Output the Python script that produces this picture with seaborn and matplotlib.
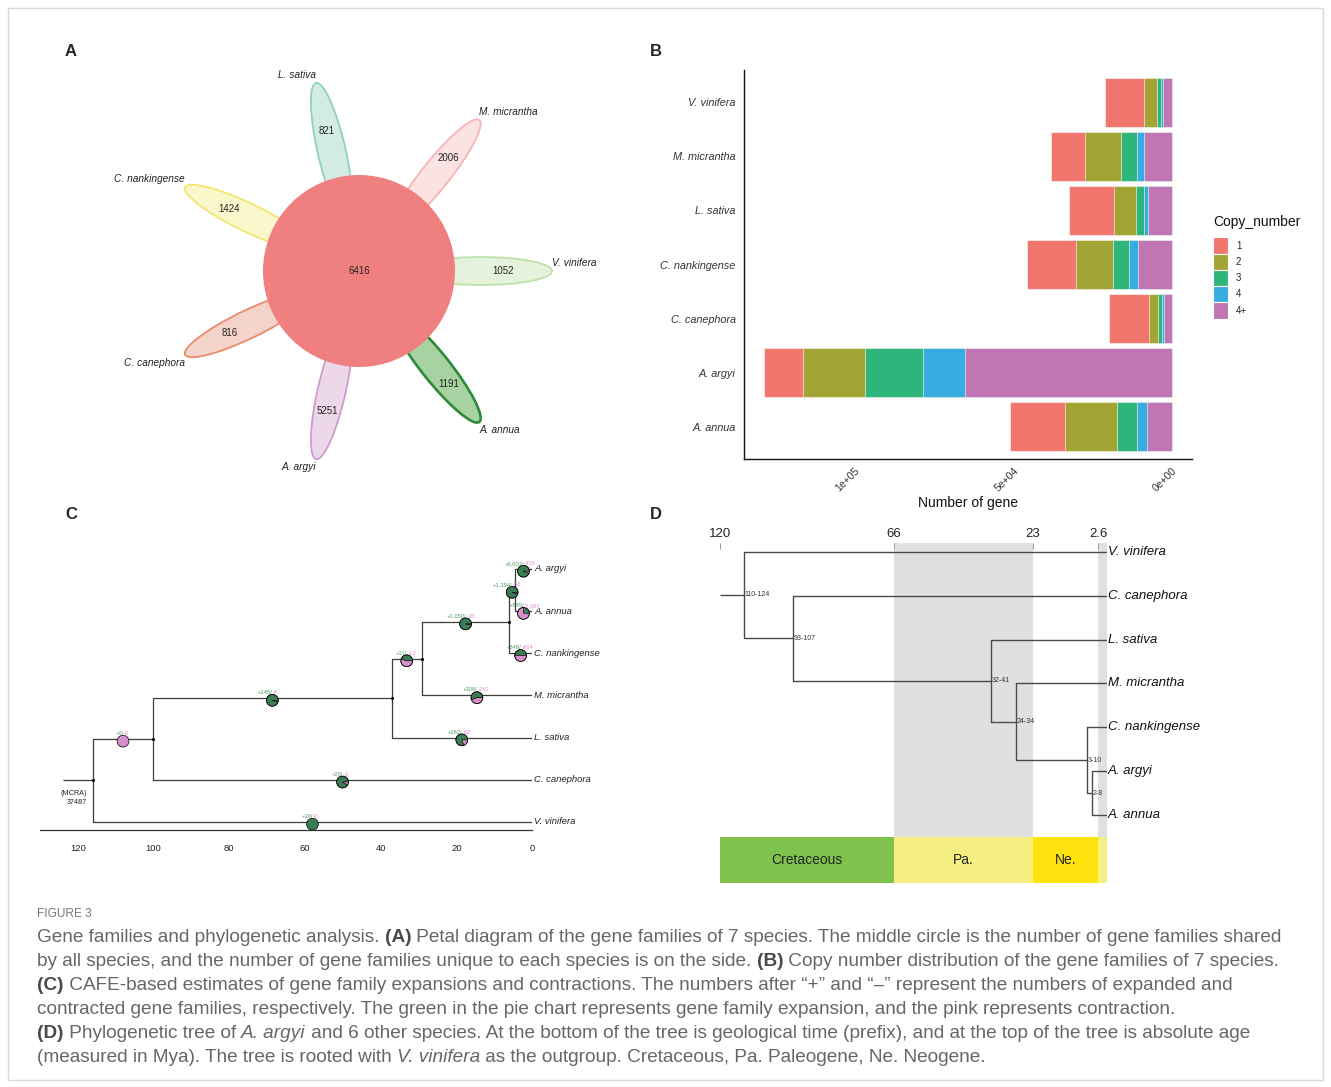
import numpy as np
import pandas as pd
import matplotlib
matplotlib.use('Agg')
import matplotlib.pyplot as plt
import seaborn as sns
from matplotlib.patches import Ellipse, Circle, Wedge, Rectangle, Patch
import matplotlib.transforms as mtransforms
from matplotlib.font_manager import FontProperties

# ================= DATA =================
# Panel A : petal diagram
petal_species = ['V. vinifera', 'M. micrantha', 'L. sativa', 'C. nankingense',
                 'C. canephora', 'A. argyi', 'A. annua']
petal_unique = [1052, 2006, 821, 1424, 816, 5251, 1191]
core_families = 6416
petal_fill = ['#E5F2DC', '#FCE3E3', '#D3ECE3', '#FBF7CD', '#F4D3CA', '#EDD8EA', '#A6D3A1']
petal_edge = ['#BDE2AA', '#F6B4B4', '#8FD1BA', '#F3E56C', '#EC8A6B', '#CD9BCD', '#2F8A3B']

# Panel B : copy number distribution
copy_species = ['V. vinifera', 'M. micrantha', 'L. sativa', 'C. nankingense',
                'C. canephora', 'A. argyi', 'A. annua']
copy_classes = ['1', '2', '3', '4', '4+']
copy_1 = [12300, 10500, 14300, 15600, 12700, 12200, 17500]
copy_2 = [4100, 11600, 7000, 11600, 2900, 19700, 16400]
copy_3 = [1500, 4900, 2500, 5100, 1200, 18400, 6300]
copy_4 = [550, 2300, 1200, 2700, 700, 13100, 3100]
copy_4plus = [2700, 8700, 7500, 10700, 2300, 65200, 7800]
copy_colors = ['#F1766D', '#A3A436', '#2EB57C', '#38ACE0', '#C076B2']
copy_ticks = [100000, 50000, 0]
copy_ticklabels = ['1e+05', '5e+04', '0e+00']

# Panel C : CAFE expansion / contraction tree
cafe_tips = ['V. vinifera', 'C. canephora', 'L. sativa', 'M. micrantha',
             'C. nankingense', 'A. annua', 'A. argyi']          # bottom -> top
cafe_nodes = ['R', 'N1', 'N2', 'N3', 'N4', 'N5']
cafe_node_ages = [116.0, 100.1, 37.1, 29.1, 6.0, 4.5]
cafe_children = [('V. vinifera', 'N1'), ('C. canephora', 'N2'), ('L. sativa', 'N3'),
                 ('M. micrantha', 'N4'), ('C. nankingense', 'N5'), ('A. annua', 'A. argyi')]
cafe_root_stem = 124.0
cafe_branches = ['V. vinifera', 'N1', 'C. canephora', 'N2', 'L. sativa', 'N3',
                 'M. micrantha', 'N4', 'C. nankingense', 'N5', 'A. annua', 'A. argyi']
cafe_expanded = [30, 0, 20, 145, 262, 11, 308, 1050, 848, 1394, 845, 6607]
cafe_contracted = [0, 6, 2, 6, 62, 13, 242, 35, 864, 58, 2567, 439]
cafe_mrca = 37487
cafe_ticks = [120, 100, 80, 60, 40, 20, 0]

# Panel D : dated tree
time_tips = ['A. annua', 'A. argyi', 'C. nankingense', 'M. micrantha',
             'L. sativa', 'C. canephora', 'V. vinifera']        # bottom -> top
time_nodes = ['R', 'N1', 'N2', 'N3', 'N4', 'N5']
time_node_ages = [112.7, 97.3, 35.9, 28.3, 6.1, 4.5]
time_node_ci = ['110-124', '93-107', '32-41', '24-34', '3-10', '2-8']
time_children = [('V. vinifera', 'N1'), ('C. canephora', 'N2'), ('L. sativa', 'N3'),
                 ('M. micrantha', 'N4'), ('C. nankingense', 'N5'), ('A. argyi', 'A. annua')]
time_root_stem = 120.0
time_ticks = [120, 66, 23, 2.6]
time_ticklabels = ['120', '66', '23', '2.6']
geo_names = ['Cretaceous', 'Pa.', 'Ne.', '']
geo_start = [120, 66, 23, 2.6]
geo_end = [66, 23, 2.6, 0]
geo_colors = ['#7FC24E', '#F5EF82', '#FFE30F', '#F6EF88']
shade_start = [66, 2.6]
shade_end = [23, 0]

# ================= SETUP =================
sns.set_style('white')
plt.rcParams['font.family'] = ['Liberation Sans', 'DejaVu Sans']
plt.rcParams['axes.unicode_minus'] = False

W, H = 1331, 1087
fig = plt.figure(figsize=(W / 100, H / 100), dpi=100)
fig.patch.set_facecolor('white')


def px_axes(l, t, r, b):
    return fig.add_axes([l / W, 1 - b / H, (r - l) / W, (b - t) / H])


def fx(x):
    return x / W


def fy(y):
    return 1 - y / H


# outer frame
fig.patches.append(Rectangle((fx(8), fy(1080)), fx(1315), (1072) / H, transform=fig.transFigure,
                             fill=False, edgecolor='#D8D8D8', lw=1.0))

# panel letters
for letter, (lx, ly) in zip('ABCD', [(71, 52), (656, 52), (71, 515), (656, 515)]):
    fig.text(fx(lx), fy(ly), letter, fontsize=12, fontweight='bold', ha='center', va='center')

# ================= PANEL A =================
axA = px_axes(40, 30, 640, 490)
axA.set_xlim(40, 640)
axA.set_ylim(490, 30)
axA.axis('off')
cx, cy, R = 359, 271, 96
for i, (sp, n) in enumerate(zip(petal_species, petal_unique)):
    ang = 360.0 / 7 * i
    th = np.deg2rad(ang)
    ux, uy = np.cos(th), -np.sin(th)
    e = Ellipse((cx + 123 * ux, cy + 123 * uy), width=140, height=28, angle=-ang,
                facecolor=petal_fill[i], edgecolor=petal_edge[i],
                lw=1.9 if i == 6 else 1.3, zorder=1)
    axA.add_patch(e)
    axA.text(cx + 144 * ux, cy + 144 * uy, str(n), fontsize=7, ha='center', va='center',
             color='#222222', zorder=4)
    tx, ty = cx + 193 * ux, cy + 193 * uy
    ha = 'left' if ux > 0.01 else 'right'
    if uy <= 0.01:
        axA.text(tx, ty - 3, sp, fontsize=7.3, style='italic', ha=ha, va='bottom', color='#222222')
    else:
        axA.text(tx, ty + 3, sp, fontsize=7.3, style='italic', ha=ha, va='top', color='#222222')
axA.add_patch(Circle((cx, cy), R, facecolor='#F08080', edgecolor='none', zorder=2))
axA.text(cx, cy, str(core_families), fontsize=7, ha='center', va='center', color='#222222', zorder=4)

# ================= PANEL B =================
axB = px_axes(744, 70, 1192, 459)
dfB = pd.DataFrame({'species': copy_species, '1': copy_1, '2': copy_2, '3': copy_3,
                    '4': copy_4, '4+': copy_4plus})
for k, cls in enumerate(copy_classes):
    dfB['cum'] = dfB[copy_classes[k:]].sum(axis=1)
    sns.barplot(data=dfB, x='cum', y='species', order=copy_species, orient='y',
                color=copy_colors[k], saturation=1, width=0.9, errorbar=None,
                edgecolor='white', linewidth=0.4, ax=axB)
axB.set_xlim(134900, -6400)
axB.set_ylim(6.6, -0.6)
axB.set_xticks(copy_ticks)
axB.set_xticklabels(copy_ticklabels, rotation=45, ha='right', va='top', rotation_mode='anchor')
axB.set_ylabel('')
axB.set_xlabel('Number of gene', fontsize=10, labelpad=2, color='#111111')
for lab in axB.get_yticklabels():
    lab.set_fontstyle('italic')
axB.tick_params(axis='y', labelsize=7.8, length=3, width=0.8, colors='#333333', pad=3)
axB.tick_params(axis='x', labelsize=7.5, length=3, width=0.8, colors='#333333', pad=2)
for s in ['top', 'right']:
    axB.spines[s].set_visible(False)
for s in ['left', 'bottom']:
    axB.spines[s].set_color('#111111')
    axB.spines[s].set_linewidth(1.0)

handles = [Patch(facecolor=c, edgecolor='white', linewidth=0.8, label=l)
           for c, l in zip(copy_colors, copy_classes)]
leg = fig.legend(handles=handles, title='Copy_number', loc='upper left',
                 bbox_to_anchor=(fx(1213), fy(215)), frameon=False, fontsize=7,
                 title_fontsize=10, handlelength=1.55, handleheight=2.2,
                 labelspacing=0.0, handletextpad=0.8, borderpad=0, borderaxespad=0,
                 alignment='left')
leg.get_title().set_color('#111111')
leg._legend_box.sep = 6


# ================= TREE HELPERS =================
def layout_tree(tips, nodes, ages, children):
    age = {t: 0.0 for t in tips}
    age.update(dict(zip(nodes, ages)))
    ch = dict(zip(nodes, children))
    ypos = {t: float(i) for i, t in enumerate(tips)}

    def gety(n):
        if n in ypos:
            return ypos[n]
        ypos[n] = np.mean([gety(c) for c in ch[n]])
        return ypos[n]

    for n in nodes:
        gety(n)
    parent = {}
    for n in nodes:
        for c in ch[n]:
            parent[c] = n
    return age, ch, ypos, parent


def draw_tree(ax, tips, nodes, ages, children, root_stem, color, lw):
    age, ch, ypos, parent = layout_tree(tips, nodes, ages, children)
    root = nodes[0]
    ax.plot([root_stem, age[root]], [ypos[root], ypos[root]], color=color, lw=lw,
            solid_capstyle='butt', zorder=2)
    for n in nodes:
        ys = [ypos[c] for c in ch[n]]
        ax.plot([age[n], age[n]], [min(ys), max(ys)], color=color, lw=lw, zorder=2)
        for c in ch[n]:
            ax.plot([age[n], age[c]], [ypos[c], ypos[c]], color=color, lw=lw,
                    solid_capstyle='butt', zorder=2)
    return age, ch, ypos, parent


# ================= PANEL C =================
xs0 = 532.0
pxmy = 3.785
axC = px_axes(xs0 - 130 * pxmy, 547.9, xs0, 830)
axC.set_xlim(130, 0)
axC.set_ylim(-0.19, 6.5)
ageC, chC, yC, parC = draw_tree(axC, cafe_tips, cafe_nodes, cafe_node_ages, cafe_children,
                                cafe_root_stem, '#3c3c3c', 0.9)
axC.scatter([ageC[n] for n in cafe_nodes], [yC[n] for n in cafe_nodes], s=5, color='black',
            zorder=5, linewidths=0)
for t in cafe_tips:
    axC.text(-0.6, yC[t], t, fontsize=6.8, style='italic', ha='left', va='center',
             color='#222222', clip_on=False)
axC.text(ageC['R'] + 1.6, yC['R'] - 0.22, '(MCRA)\n' + str(cafe_mrca), fontsize=5.2,
         ha='right', va='top', color='#222222', linespacing=1.5)

r_in = 0.059
for br, ex, co in zip(cafe_branches, cafe_expanded, cafe_contracted):
    xm = (ageC[parC[br]] + ageC[br]) / 2.0
    yv = yC[br]
    trans = fig.dpi_scale_trans + mtransforms.ScaledTranslation(xm, yv, axC.transData)
    frac = ex / (ex + co) if (ex + co) > 0 else 0
    c0 = (0, -0.022)
    if frac >= 1:
        axC.add_patch(Circle(c0, r_in, facecolor='#3A7D55', edgecolor='black', lw=0.5,
                             transform=trans, zorder=6))
    elif frac <= 0:
        axC.add_patch(Circle(c0, r_in, facecolor='#D78CCB', edgecolor='black', lw=0.5,
                             transform=trans, zorder=6))
    else:
        axC.add_patch(Wedge(c0, r_in, 0, frac * 360, facecolor='#3A7D55', edgecolor='black',
                            lw=0.4, transform=trans, zorder=6))
        axC.add_patch(Wedge(c0, r_in, frac * 360, 360, facecolor='#D78CCB', edgecolor='black',
                            lw=0.4, transform=trans, zorder=6))
        axC.add_patch(Circle(c0, r_in, facecolor='none', edgecolor='black', lw=0.5,
                             transform=trans, zorder=7))
    axC.annotate('+{:,}/'.format(ex), (xm, yv), xytext=(0.5, 2.2), textcoords='offset points',
                 fontsize=4.2, color='#4E9C6A', ha='right', va='bottom', zorder=8)
    axC.annotate('-{:,}'.format(co), (xm, yv), xytext=(0.5, 2.2), textcoords='offset points',
                 fontsize=4.2, color='#E38FD5', ha='left', va='bottom', zorder=8)

axC.set_xticks(cafe_ticks)
axC.set_xticklabels([str(t) for t in cafe_ticks])
axC.set_yticks([])
axC.tick_params(axis='x', labelsize=6.8, length=4, width=0.8, colors='#222222', pad=6)
for s in ['top', 'right', 'left']:
    axC.spines[s].set_visible(False)
axC.spines['bottom'].set_color('#333333')
axC.spines['bottom'].set_linewidth(0.9)
axC.patch.set_alpha(0)

# ================= PANEL D =================
x0D = 1106.7
pxD = 3.22
axD = px_axes(x0D - 120 * pxD, 543, x0D, 883)
axD.set_xlim(120, 0)
axD.set_ylim(-1.55, 6.2)
for a, b in zip(shade_start, shade_end):
    axD.fill_betweenx([-0.5, 6.2], a, b, color='#E0E0E0', lw=0, zorder=0)
for name, a, b, c in zip(geo_names, geo_start, geo_end, geo_colors):
    axD.fill_betweenx([-1.55, -0.5], a, b, color=c, lw=0, zorder=1)
    if name:
        axD.text((a + b) / 2, -1.025, name, fontsize=10, ha='center', va='center', color='#222222')
ageD, chD, yD, parD = draw_tree(axD, time_tips, time_nodes, time_node_ages, time_children,
                                time_root_stem, '#4a4a4a', 1.0)
for n, ci in zip(time_nodes, time_node_ci):
    axD.text(ageD[n] - 0.2, yD[n], ci, fontsize=5, ha='left', va='center', color='#333333',
             zorder=4)
for t in time_tips:
    axD.text(-0.4, yD[t], t, fontsize=9.5, style='italic', ha='left', va='center',
             color='#111111', clip_on=False)
axD.xaxis.tick_top()
axD.set_xticks(time_ticks)
axD.set_xticklabels(time_ticklabels)
axD.set_yticks([])
axD.tick_params(axis='x', direction='in', length=4, width=0.7, color='#9a9a9a',
                labelsize=9.5, labelcolor='#222222', pad=2)
for s in axD.spines.values():
    s.set_visible(False)
axD.patch.set_alpha(0)

# ================= CAPTION =================
renderer = fig.canvas.get_renderer()
cap_color = '#666666'
fig.text(fx(37), fy(914), 'FIGURE 3', fontsize=8.6, color='#777777', ha='left', va='center')

caption_lines = [
    [("Gene families and phylogenetic analysis. ", 'n'), ("(A)", 'b'),
     (" Petal diagram of the gene families of 7 species. The middle circle is the number of gene families shared", 'n')],
    [("by all species, and the number of gene families unique to each species is on the side. ", 'n'),
     ("(B)", 'b'), (" Copy number distribution of the gene families of 7 species.", 'n')],
    [("(C)", 'b'),
     (" CAFE-based estimates of gene family expansions and contractions. The numbers after \u201c+\u201d and \u201c\u2013\u201d represent the numbers of expanded and", 'n')],
    [("contracted gene families, respectively. The green in the pie chart represents gene family expansion, and the pink represents contraction.", 'n')],
    [("(D)", 'b'), (" Phylogenetic tree of ", 'n'), ("A. argyi", 'i'),
     (" and 6 other species. At the bottom of the tree is geological time (prefix), and at the top of the tree is absolute age", 'n')],
    [("(measured in Mya). The tree is rooted with ", 'n'), ("V. vinifera", 'i'),
     (" as the outgroup. Cretaceous, Pa. Paleogene, Ne. Neogene.", 'n')],
]
caption_y = [937, 961, 985, 1010, 1033, 1057]


def fprop(style, size):
    return FontProperties(family='Liberation Sans',
                          weight='bold' if style == 'b' else 'normal',
                          style='italic' if style == 'i' else 'normal', size=size)


def seg_width(s, style, size):
    fp = fprop(style, size)
    w1 = renderer.get_text_width_height_descent(s + 'x', fp, ismath=False)[0]
    w0 = renderer.get_text_width_height_descent('x', fp, ismath=False)[0]
    return w1 - w0


ref_w = sum(seg_width(s, st, 10) for s, st in caption_lines[0])
cap_size = 10 * 1253.0 / ref_w
for line, yy in zip(caption_lines, caption_y):
    x = 37.0
    for s, st in line:
        fig.text(fx(x), fy(yy), s, fontproperties=fprop(st, cap_size),
                 color='#4a4a4a' if st == 'b' else cap_color, ha='left', va='center')
        x += seg_width(s, st, cap_size)

fig.savefig('out.png', dpi=100, facecolor='white')
